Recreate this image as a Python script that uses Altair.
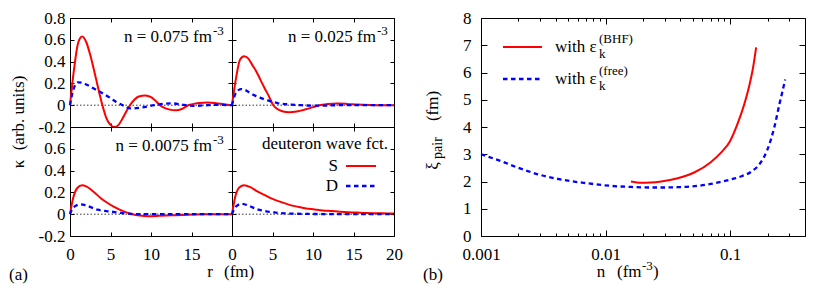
import altair as alt
import pandas as pd

FONT = "Liberation Serif"
RED = "#ff0000"
BLUE = "#0000ff"

# ---------------- (a) kappa(r) data ----------------
r_S075 = [0, 0.5, 1.0, 1.5, 2.0, 2.5, 3.0, 3.5, 4.0, 4.5, 5.0, 5.5, 6.0, 6.5, 7.0, 7.5, 8.0, 8.5, 9.3, 10.0, 10.5, 11.1, 11.6, 12.2, 13.1, 13.8, 14.6, 15.3, 16.0, 17.0, 18.0, 19.0, 20.0]
S075 = [0, 0.33, 0.57, 0.63, 0.58, 0.46, 0.31, 0.15, 0.0, -0.12, -0.18, -0.2, -0.18, -0.12, -0.05, 0.01, 0.055, 0.08, 0.09, 0.075, 0.045, 0.0, -0.022, -0.038, -0.047, -0.035, 0.0, 0.012, 0.02, 0.024, 0.018, 0.008, 0.0]
r_D075 = [0, 0.4, 1.0, 1.5, 2.0, 3.0, 4.0, 5.0, 5.7, 6.5, 7.5, 8.8, 10.4, 12.5, 14.1, 15.3, 16.5, 18.0, 20.0]
D075 = [0, 0.14, 0.21, 0.205, 0.19, 0.15, 0.11, 0.065, 0.03, 0.0, -0.03, -0.022, 0.0, 0.017, 0.003, -0.006, -0.002, 0.003, 0.0]

r_S025 = [0, 0.5, 1.0, 1.5, 2.0, 2.5, 3.0, 3.5, 4.0, 4.5, 5.1, 5.6, 6.2, 7.1, 8.0, 9.0, 10.0, 10.8, 11.8, 13.0, 14.2, 15.5, 17.0, 18.5, 20.0]
S025 = [0, 0.25, 0.42, 0.45, 0.43, 0.37, 0.31, 0.235, 0.16, 0.09, 0.0, -0.035, -0.055, -0.065, -0.058, -0.04, -0.018, 0.0, 0.01, 0.015, 0.012, 0.006, 0.002, 0.0, 0.0]
r_D025 = [0, 0.4, 1.1, 1.6, 2.2, 2.8, 3.6, 4.4, 5.6, 7.3, 8.5, 10.0, 11.5, 13.0, 15.0, 17.0, 20.0]
D025 = [0, 0.1, 0.148, 0.14, 0.115, 0.09, 0.065, 0.044, 0.02, 0.006, 0.0, -0.004, -0.003, 0.0, 0.001, 0.0, 0.0]

r_S0075 = [0, 0.4, 0.9, 1.5, 2.0, 3.0, 3.8, 4.5, 5.5, 6.7, 7.7, 8.6, 9.6, 11.0, 12.5, 14.5, 16.5, 18.5, 20.0]
S0075 = [0, 0.15, 0.24, 0.265, 0.255, 0.2, 0.147, 0.11, 0.065, 0.024, 0.0, -0.012, -0.018, -0.015, -0.01, -0.004, -0.001, 0.0, 0.0]
r_D0075 = [0, 0.4, 1.3, 2.0, 3.4, 4.5, 5.5, 6.7, 8.0, 10.0, 14.0, 20.0]
D0075 = [0, 0.06, 0.09, 0.08, 0.041, 0.028, 0.02, 0.008, 0.001, 0.0, 0.0, 0.0]

r_Sdeut = [0, 0.4, 0.9, 1.5, 2.2, 3.0, 4.0, 5.0, 6.1, 7.0, 8.2, 9.0, 10.2, 11.2, 12.3, 13.3, 14.3, 15.4, 16.4, 18.0, 19.7, 20.0]
Sdeut = [0, 0.16, 0.245, 0.265, 0.25, 0.215, 0.177, 0.14, 0.11, 0.088, 0.067, 0.055, 0.044, 0.035, 0.029, 0.023, 0.018, 0.015, 0.012, 0.009, 0.006, 0.006]
r_Ddeut = [0, 0.4, 1.2, 2.0, 3.1, 4.0, 5.2, 6.5, 8.0, 10.0, 13.0, 16.0, 20.0]
Ddeut = [0, 0.065, 0.095, 0.08, 0.045, 0.03, 0.016, 0.008, 0.004, 0.002, 0.001, 0.0, 0.0]

kappa_ticks = [-0.2, 0, 0.2, 0.4, 0.6, 0.8]
r_ticks = [0, 5, 10, 15, 20]

# ---------------- (b) xi_pair(n) data ----------------
n_bhf = [0.016, 0.0193, 0.023, 0.028, 0.038, 0.052, 0.07, 0.085, 0.1, 0.115, 0.13, 0.143, 0.152, 0.162]
xi_bhf = [2.0, 1.95, 1.96, 2.0, 2.12, 2.34, 2.71, 3.07, 3.48, 4.12, 4.83, 5.53, 6.1, 6.92]
n_free = [0.001, 0.0015, 0.002, 0.003, 0.005, 0.007, 0.011, 0.016, 0.022, 0.03, 0.038, 0.05, 0.07, 0.1, 0.125, 0.148, 0.177, 0.2, 0.227, 0.249, 0.265, 0.277]
xi_free = [3.0, 2.72, 2.5, 2.24, 2.03, 1.94, 1.84, 1.8, 1.78, 1.78, 1.79, 1.82, 1.91, 2.07, 2.2, 2.36, 2.71, 3.18, 4.0, 4.83, 5.35, 5.74]
n_major = [0.001, 0.01, 0.1]
n_minor = [0.002, 0.003, 0.004, 0.005, 0.006, 0.007, 0.008, 0.009,
           0.02, 0.03, 0.04, 0.05, 0.06, 0.07, 0.08, 0.09, 0.2, 0.3]
xi_ticks = [0, 1, 2, 3, 4, 5, 6, 7, 8]

PW, PH = 162, 109
BW, BH = 324, 218
FS = 17
SUP = 13
one = pd.DataFrame({"k": [0]})

xs_a = alt.Scale(domain=[0, 20], nice=False, zero=False)
ys_a = alt.Scale(domain=[-0.2, 0.8], nice=False, zero=False)


def txt(s, x, y, size=FS, align="left", angle=0):
    return alt.Chart(one).mark_text(
        text=s, align=align, baseline="middle", fontSize=size, angle=angle,
        font=FONT, color="black"
    ).encode(x=alt.value(x), y=alt.value(y))


def ax(orient, values, T, labels=False, pad=4, expr=None, fmt=None):
    kw = dict(orient=orient, values=values, tickSize=T, offset=-T, labels=labels,
              domain=False, grid=False, title=None, labelPadding=pad,
              labelFlush=False, labelOverlap=False, tickColor="black")
    if expr is not None:
        kw["labelExpr"] = expr
    if fmt is not None:
        kw["format"] = fmt
    return alt.Axis(**kw)


ylab = ("(datum.value == 0 ? '0' : (datum.value < 0 ? '-' + format(-datum.value, '.1f') "
        ": format(datum.value, '.1f')))")
ylab_low = "datum.value > 0.7 ? '' : " + ylab


def panel(rS, S, rD, D, xlabels, ylabels, xexpr=None, yexpr=None, extra=()):
    dS = pd.DataFrame({"r": rS, "k": S})
    dD = pd.DataFrame({"r": rD, "k": D})
    zero = alt.Chart(one).mark_rule(color="black", strokeWidth=0.8, strokeDash=[1.5, 2]).encode(
        y=alt.YDatum(0, scale=ys_a, axis=None))
    lS = alt.Chart(dS).mark_line(color=RED, strokeWidth=2, interpolate="monotone").encode(
        x=alt.X("r:Q", scale=xs_a, axis=ax("bottom", r_ticks, 4, xlabels, 10, xexpr)),
        y=alt.Y("k:Q", scale=ys_a, axis=ax("left", kappa_ticks, 4, ylabels, 5, yexpr)))
    lD = alt.Chart(dD).mark_line(color=BLUE, strokeWidth=2.3, strokeDash=[4.5, 3.5],
                                 interpolate="monotone").encode(
        x=alt.X("r:Q", scale=xs_a, axis=ax("top", r_ticks, 4)),
        y=alt.Y("k:Q", scale=ys_a, axis=ax("right", kappa_ticks, 4)))
    return alt.layer(zero, lS, lD, *extra).resolve_axis(
        x="independent", y="independent").properties(width=PW, height=PH)


TL = panel(r_S075, S075, r_D075, D075, False, True, yexpr=ylab,
           extra=[txt("n = 0.075 fm", 142, 19, align="right"), txt("-3", 143, 13, SUP),
                  txt("κ", -51, 146, angle=270, align="center"),
                  txt("(arb. units)", -51, 95, angle=270, align="center")])
TR = panel(r_S025, S025, r_D025, D025, False, False,
           extra=[txt("n = 0.025 fm", 144, 19, align="right"), txt("-3", 145, 13, SUP)])
BL = panel(r_S0075, S0075, r_D0075, D0075, True, True,
           xexpr="datum.value > 19 ? '' : datum.label", yexpr=ylab_low,
           extra=[txt("n = 0.0075 fm", 142, 19, align="right"), txt("-3", 143, 13, SUP),
                  txt("(a)", -61, 148), txt("r", 140, 145, align="center"),
                  txt("(fm)", 154, 145)])
legS = alt.Chart(one).mark_rule(color=RED, strokeWidth=2).encode(
    x=alt.value(114), x2=alt.value(144), y=alt.value(39))
legD = alt.Chart(one).mark_rule(color=BLUE, strokeWidth=2.3, strokeDash=[4.5, 3.5]).encode(
    x=alt.value(114), x2=alt.value(144), y=alt.value(59))
BR = panel(r_Sdeut, Sdeut, r_Ddeut, Ddeut, True, False,
           extra=[txt("deuteron wave fct.", 156, 17, align="right"),
                  txt("S", 106, 39, align="right"), txt("D", 106, 59, align="right"),
                  legS, legD])

part_a = alt.concat(TL, TR, BL, BR, columns=2, spacing=0, bounds="flush")

# ---------------- (b) ----------------
xs_b = alt.Scale(type="log", domain=[0.001, 0.4], nice=False)
ys_b = alt.Scale(domain=[0, 8], nice=False, zero=False)
dB = pd.DataFrame({"n": n_bhf, "xi": xi_bhf})
dF = pd.DataFrame({"n": n_free, "xi": xi_free})

bB = alt.Chart(dB).mark_line(color=RED, strokeWidth=2, interpolate="monotone").encode(
    x=alt.X("n:Q", scale=xs_b, axis=ax("bottom", n_major, 6, True, 10, fmt="~g")),
    y=alt.Y("xi:Q", scale=ys_b, axis=ax("left", xi_ticks, 6, True, 10, fmt="d")))
bF = alt.Chart(dF).mark_line(color=BLUE, strokeWidth=2.3, strokeDash=[4.5, 3.5],
                             interpolate="monotone").encode(
    x=alt.X("n:Q", scale=xs_b, axis=ax("top", n_major, 6)),
    y=alt.Y("xi:Q", scale=ys_b, axis=ax("right", xi_ticks, 6)))
mB = alt.Chart(dF).mark_point(opacity=0).encode(
    x=alt.X("n:Q", scale=xs_b, axis=ax("bottom", n_minor, 3)),
    y=alt.Y("xi:Q", scale=ys_b, axis=None))
mT = alt.Chart(dF).mark_point(opacity=0).encode(
    x=alt.X("n:Q", scale=xs_b, axis=ax("top", n_minor, 3)),
    y=alt.Y("xi:Q", scale=ys_b, axis=None))
lb1 = alt.Chart(one).mark_rule(color=RED, strokeWidth=2).encode(
    x=alt.value(22), x2=alt.value(61), y=alt.value(29))
lb2 = alt.Chart(one).mark_rule(color=BLUE, strokeWidth=2.3, strokeDash=[4.5, 3.5]).encode(
    x=alt.value(22), x2=alt.value(61), y=alt.value(61))

part_b = alt.layer(
    bB, bF, mB, mT, lb1, lb2,
    txt("with ε", 74, 29), txt("k", 118, 36, SUP), txt("(BHF)", 118, 21, SUP),
    txt("with ε", 74, 61), txt("k", 118, 68, SUP), txt("(free)", 118, 53, SUP),
    txt("ξ", -48, 148, angle=270, align="center"),
    txt("pair", -43, 130, 14, angle=270, align="center"),
    txt("(fm)", -48, 88, angle=270, align="center"),
    txt("(b)", -58, 257),
    txt("n", 120, 254, align="center"), txt("(fm", 136, 254),
    txt("-3", 161, 248, SUP), txt(")", 172, 254),
).resolve_axis(x="independent", y="independent").properties(width=BW, height=BH)

chart = alt.hconcat(part_a, part_b, spacing=19).properties(
    padding={"left": 0, "top": 0, "right": 0, "bottom": 0}
).configure(font=FONT).configure_view(stroke="black", strokeWidth=1).configure_axis(
    labelFont=FONT, labelFontSize=FS, labelColor="black", tickColor="black", tickWidth=1)

chart.save("out.html", embed_options={"renderer": "svg", "actions": False})
